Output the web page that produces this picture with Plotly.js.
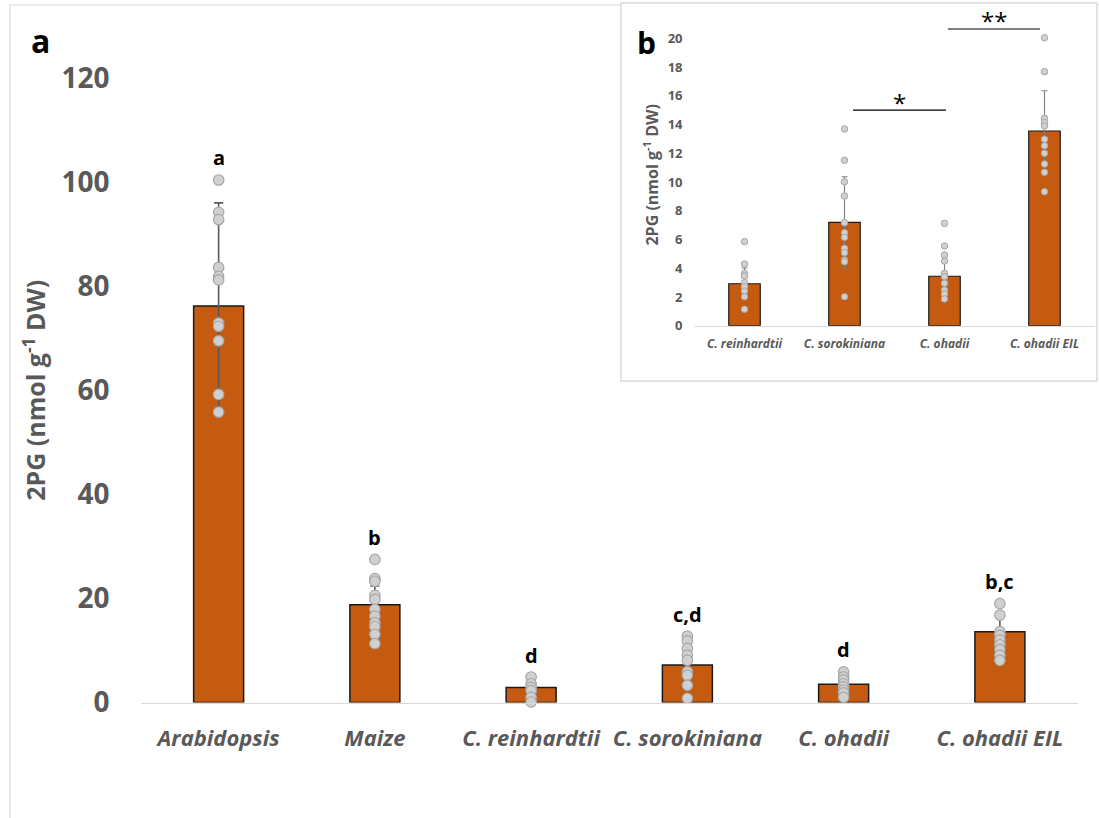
<!DOCTYPE html>
<html>
<head>
<meta charset="utf-8">
<script src="https://cdn.plot.ly/plotly-3.0.1.min.js"></script>
<style>
  html, body { margin: 0; padding: 0; background: #ffffff; }
  #chart { width: 1099px; height: 818px; }
</style>
</head>
<body>
<div id="chart"></div>
<script>
// ---- Panel a: all six organisms ----
const mainCats = ['Arabidopsis', 'Maize', 'C. reinhardtii', 'C. sorokiniana', 'C. ohadii', 'C. ohadii EIL'];
const mainMeans = [76.2, 18.8, 2.9, 7.2, 3.5, 13.6];
const mainSD = [19.8, 3.6, 1.1, 3.2, 1.2, 2.8];
const mainLetters = ['a', 'b', 'd', 'c,d', 'd', 'b,c'];
const ptsArabidopsis = [100.4, 94.2, 92.8, 83.6, 81.9, 81.2, 72.9, 72.3, 69.5, 59.2, 55.8];
const ptsMaize = [27.5, 23.8, 23.3, 20.6, 19.8, 17.9, 16.6, 15.3, 14.6, 13.1, 11.3];
const ptsReinhardtii = [4.9, 3.6, 2.9, 2.3, 1.0, 0.1];
const ptsSorokiniana = [12.75, 11.85, 10.4, 9.1, 8.1, 5.9, 5.25, 3.3, 0.8];
const ptsOhadii = [5.9, 4.9, 4.3, 3.6, 3.0, 2.4, 1.85, 1.0];
const ptsOhadiiEIL = [19.0, 16.8, 13.6, 12.9, 12.0, 11.1, 10.2, 9.1, 8.1];
const mainPoints = [ptsArabidopsis, ptsMaize, ptsReinhardtii, ptsSorokiniana, ptsOhadii, ptsOhadiiEIL];

// ---- Panel b: the four algae ----
const insetCats = ['C. reinhardtii', 'C. sorokiniana', 'C. ohadii', 'C. ohadii EIL'];
const insetMeans = [2.92, 7.19, 3.44, 13.55];
const insetSD = [1.1, 3.18, 1.0, 2.8];
const inPtsReinhardtii = [5.85, 4.29, 3.64, 3.46, 2.99, 2.71, 2.41, 2.02, 1.14];
const inPtsSorokiniana = [13.69, 11.51, 10.02, 9.03, 7.17, 6.47, 6.15, 5.38, 5.08, 4.57, 4.45, 2.02];
const inPtsOhadii = [7.12, 5.55, 4.92, 4.5, 3.64, 3.41, 2.95, 2.48, 2.2, 1.86];
const inPtsOhadiiEIL = [20.04, 17.68, 14.43, 14.13, 13.9, 12.97, 12.53, 12.0, 11.25, 10.67, 9.33];
const insetPoints = [inPtsReinhardtii, inPtsSorokiniana, inPtsOhadii, inPtsOhadiiEIL];
const insetTicks = [0, 2, 4, 6, 8, 10, 12, 14, 16, 18, 20];

// significance brackets in panel b: [start, end (category index units), height, label]
const sigBrackets = [
  [1.085, 2.015, 15.0, '*'],
  [2.035, 2.955, 20.65, '**']
];

// ---- helpers ----
const W = 1099, H = 818;
const px = x => x / W;
const py = y => 1 - y / H;

const BAR = '#c55a11';
const GREY_TXT = '#595959';
const FONT = 'Open Sans, Liberation Sans, sans-serif';

function flatten(cats, groups) {
  const xs = [], ys = [];
  groups.forEach((g, i) => g.forEach(v => { xs.push(cats[i]); ys.push(v); }));
  return { xs, ys };
}

const mainDots = flatten(mainCats, mainPoints);
const insetDots = flatten(insetCats, insetPoints);

const traces = [
  {
    type: 'bar', x: mainCats, y: mainMeans, xaxis: 'x', yaxis: 'y',
    width: 0.32,
    marker: { color: BAR, line: { color: '#1a1a1a', width: 1.5 } },
    error_y: { type: 'data', array: mainSD, visible: true, color: '#595959', thickness: 1.6, width: 4.5 },
    hoverinfo: 'skip', showlegend: false
  },
  {
    type: 'scatter', mode: 'markers', x: mainDots.xs, y: mainDots.ys, xaxis: 'x', yaxis: 'y',
    marker: { size: 10.5, color: '#d0d0d0', line: { color: '#a6a6a6', width: 1.2 } },
    cliponaxis: false, hoverinfo: 'skip', showlegend: false
  },
  {
    type: 'bar', x: insetCats, y: insetMeans, xaxis: 'x2', yaxis: 'y2',
    width: 0.315,
    marker: { color: BAR, line: { color: '#1a1a1a', width: 1.2 } },
    error_y: { type: 'data', array: insetSD, visible: true, color: '#7f7f7f', thickness: 1.1, width: 3 },
    hoverinfo: 'skip', showlegend: false
  },
  {
    type: 'scatter', mode: 'markers', x: insetDots.xs, y: insetDots.ys, xaxis: 'x2', yaxis: 'y2',
    marker: { size: 6.5, color: '#d0d0d0', line: { color: '#a6a6a6', width: 1 } },
    cliponaxis: false, hoverinfo: 'skip', showlegend: false
  }
];

// group letters above each organism
const annotations = mainCats.map((c, i) => ({
  x: c, y: Math.max(...mainPoints[i]), xref: 'x', yref: 'y',
  text: mainLetters[i], showarrow: false, yanchor: 'middle', yshift: 22,
  font: { family: FONT, size: 20, color: '#000000', weight: 'bold' }
}));

// panel letters
annotations.push({
  x: px(40), y: py(40), xref: 'paper', yref: 'paper', text: 'a', showarrow: false,
  xanchor: 'center', yanchor: 'middle',
  font: { family: FONT, size: 32, color: '#000000', weight: 'bold' }
});
annotations.push({
  x: px(646), y: py(43), xref: 'paper', yref: 'paper', text: 'b', showarrow: false,
  xanchor: 'center', yanchor: 'middle',
  font: { family: FONT, size: 30, color: '#000000', weight: 'bold' }
});

const shapes = [
  // outer frame of the figure
  { type: 'rect', xref: 'paper', yref: 'paper', x0: px(10), x1: px(1110), y0: py(830), y1: py(5),
    line: { color: '#d9d9d9', width: 1.2 }, fillcolor: 'rgba(0,0,0,0)', layer: 'below' },
  // inset panel background and frame
  { type: 'rect', xref: 'paper', yref: 'paper', x0: px(621), x1: px(1097), y0: py(381), y1: py(3),
    line: { color: '#d9d9d9', width: 1.5 }, fillcolor: '#ffffff', layer: 'below' }
];

sigBrackets.forEach(([a, b, h, lab]) => {
  shapes.push({
    type: 'line', xref: 'x2', yref: 'y2',
    x0: a, x1: b, y0: h, y1: h,
    line: { color: '#000000', width: 1.1 }
  });
  annotations.push({
    x: (a + b) / 2, y: h, xref: 'x2', yref: 'y2', text: lab, showarrow: false,
    yanchor: 'middle', yshift: 8,
    font: { family: FONT, size: 24, color: '#000000' }
  });
});

const layout = {
  width: W, height: H,
  margin: { l: 0, r: 0, t: 0, b: 0 },
  paper_bgcolor: '#ffffff',
  plot_bgcolor: 'rgba(0,0,0,0)',
  showlegend: false,
  bargap: 0,
  xaxis: {
    domain: [px(140.5), px(1078)],
    type: 'category', categoryorder: 'array', categoryarray: mainCats,
    showline: true, linecolor: '#d9d9d9', linewidth: 1.5, showgrid: false, zeroline: false,
    ticks: '', ticklabelstandoff: 16,
    tickfont: { family: FONT, size: 22, color: GREY_TXT, weight: 'bold', style: 'italic' },
    fixedrange: true
  },
  yaxis: {
    domain: [py(702.5), py(78)],
    range: [0, 120], dtick: 20,
    showline: false, showgrid: false, zeroline: false,
    ticks: '', ticklabelstandoff: 30,
    tickfont: { family: FONT, size: 28, color: GREY_TXT, weight: 'bold' },
    title: { text: '2PG (nmol g<sup>-1</sup> DW)', standoff: 8,
             font: { family: FONT, size: 25, color: GREY_TXT, weight: 'bold' } },
    fixedrange: true
  },
  xaxis2: {
    domain: [px(694.5), px(1094.5)], anchor: 'y2',
    type: 'category', categoryorder: 'array', categoryarray: insetCats,
    showline: true, linecolor: '#d9d9d9', linewidth: 1.2, showgrid: false, zeroline: false,
    ticks: '', ticklabelstandoff: 7,
    tickfont: { family: FONT, size: 12, color: GREY_TXT, weight: 'bold', style: 'italic' },
    fixedrange: true
  },
  yaxis2: {
    domain: [py(325.7), py(325.7 - 21 * 14.37)], anchor: 'x2',
    range: [0, 21], tickmode: 'array', tickvals: insetTicks,
    showline: false, showgrid: false, zeroline: false,
    ticks: '', ticklabelstandoff: 11,
    tickfont: { family: FONT, size: 13, color: GREY_TXT, weight: 'bold' },
    title: { text: '2PG (nmol g<sup>-1</sup> DW)', standoff: 5,
             font: { family: FONT, size: 16, color: GREY_TXT, weight: 'bold' } },
    fixedrange: true
  },
  shapes: shapes,
  annotations: annotations
};

Plotly.newPlot('chart', traces, layout, { displayModeBar: false, staticPlot: true });
</script>
</body>
</html>
